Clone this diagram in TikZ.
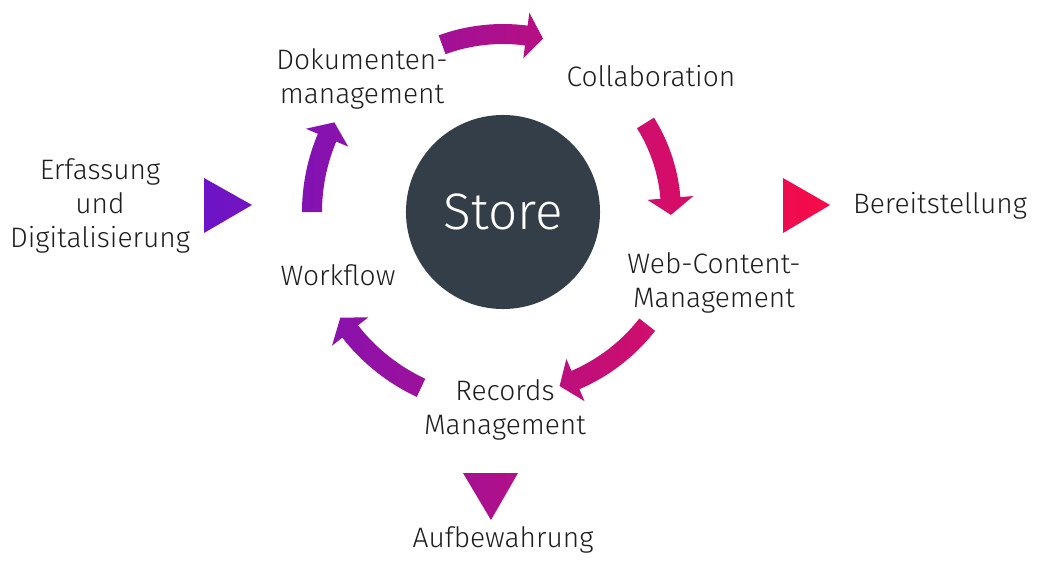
\documentclass[tikz,border=0pt]{standalone}
\usepackage{fontspec}
\setmainfont{Fira Sans Light}
\usetikzlibrary{calc}

\definecolor{violett}{HTML}{6C14C8}
\definecolor{rot}{HTML}{F80B47}
\definecolor{schiefer}{HTML}{343E49}
\definecolor{schrift}{HTML}{1E1E1E}

% Стрелка по дуге вокруг (store): радиус, начальный угол, конечный угол
\newcommand{\kreispfeil}[3]{%
  ($(store)+(#2:#1+10)$) arc[start angle=#2, end angle={#3+17/#1*57.3}, radius=#1+10]
  -- ($(store)+({#3+17/#1*57.3}:#1+23)$)
  -- ($(store)+(#3:#1)$)
  -- ($(store)+({#3+17/#1*57.3}:#1-23)$)
  -- ($(store)+({#3+17/#1*57.3}:#1-10)$)
  arc[start angle={#3+17/#1*57.3}, end angle=#2, radius=#1-10]
  -- cycle
}

\begin{document}
\begin{tikzpicture}[
    x=0.025cm, y=0.025cm,
    % Стиль для подписей: по центру, без отступов
    label/.style={align=center, text=schrift, inner sep=0pt,
      font=\fontsize{20}{24}\selectfont},
    % Стиль для центрального круга
    kern/.style={circle, fill=schiefer, minimum size=4.85cm, text=white,
      font=\fontsize{36.5}{40}\selectfont}
]
    \useasboundingbox (0,0) rectangle (1040,-585);

    % --- Центр ---
    \node[kern] (store) at (503,-212) {Store};

    % --- Подписи по кругу ---
    \node[label] (doku) at (362,-79) {Dokumenten-\\management};
    \node[label] (collab) at (651,-76) {Collaboration};
    \node[label] (wcm) at (714,-283) {Web-Content-\\Management};
    \node[label] (records) at (505,-410) {Records\\Management};
    \node[label] (workflow) at (338,-275) {Workflow};

    % --- Внешние подписи ---
    \node[label] (erfassung) at (100,-206) {Erfassung\\und\\Digitalisierung};
    \node[label] (bereit) at (940,-206) {Bereitstellung};
    \node[label] (aufbew) at (503,-540) {Aufbewahrung};

    % --- Стрелки и треугольники с общим градиентом ---
    \begin{scope}
        \clip \kreispfeil{178}{110}{77}
              \kreispfeil{191}{180}{152}
              \kreispfeil{168}{32}{-1}
              \kreispfeil{183}{-38}{-72}
              \kreispfeil{194}{245}{213}
              (204,-178) -- (204,-233) -- (252,-205) -- cycle
              (783,-178) -- (783,-233) -- (830,-205) -- cycle
              (463,-473) -- (518,-473) -- (491,-520) -- cycle;
        \shade[left color=violett, right color=rot] (204,0) rectangle (830,-585);
    \end{scope}

\end{tikzpicture}
\end{document}
